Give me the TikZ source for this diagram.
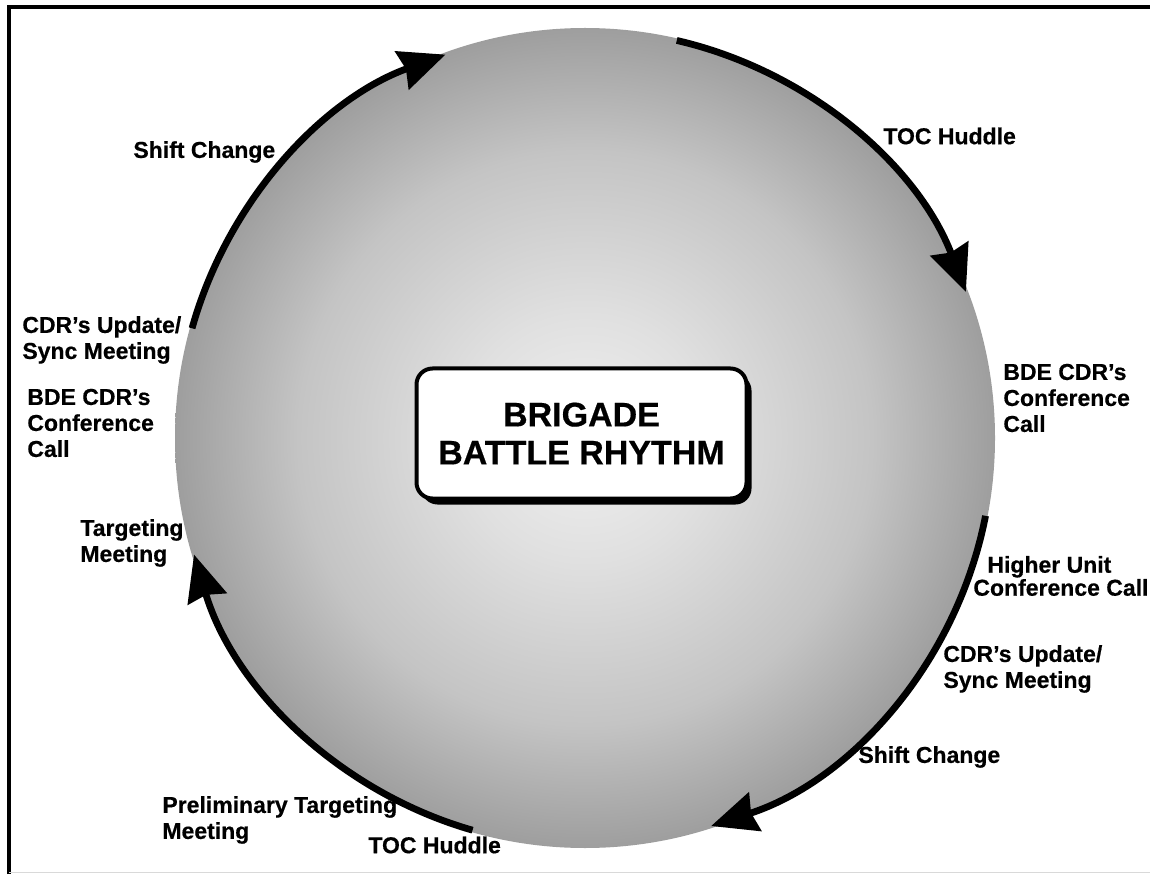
\documentclass[tikz,border=0pt]{standalone}
\usepackage{fontspec}
\setmainfont{Liberation Sans}[BoldFeatures={FakeBold=0.5}]
\usetikzlibrary{arrows.meta,shadows}

% grey disc: light centre fading to a mid grey rim (radius = 25bp)
\definecolor{discA}{HTML}{F0F0F0}
\definecolor{discB}{HTML}{E0E0E0}
\definecolor{discC}{HTML}{C4C4C4}
\definecolor{discD}{HTML}{9E9E9E}
\pgfdeclareradialshading{discfill}{\pgfpoint{0bp}{0bp}}{%
  color(0bp)=(discA); color(7.5bp)=(discB); color(17.5bp)=(discC);
  color(25bp)=(discD); color(50bp)=(discD)}

\tikzset{
  lbl/.style={anchor=west, align=left, inner sep=0pt,
    font=\bfseries\fontsize{11.5}{13}\selectfont},
  cyc/.style={line width=3.4pt,
    -{Stealth[length=23pt, width=20pt, inset=2pt]}},
  titlebox/.style={draw, line width=2pt, fill=white, rounded corners=8pt,
    minimum width=165pt, minimum height=65pt, align=center,
    font=\bfseries\fontsize{17}{19}\selectfont,
    drop shadow={shadow xshift=2.5pt, shadow yshift=-3pt, fill=black, opacity=1}},
  frameline/.style={line width=2pt, line join=miter}
}

\begin{document}
\begin{tikzpicture}[x=0.5pt, y=0.5pt]
\useasboundingbox (0,0) rectangle (1150,874);

% outer frame
\coordinate (fbl) at (9,0);
\coordinate (ftl) at (9,867);
\coordinate (ftr) at (1150,867);
\draw[frameline] (fbl) -- (ftl) -- (ftr);
\coordinate (gbl) at (9,1.5);
\coordinate (gbr) at (1150,1.5);
\draw[black!15, line width=0.6pt] (gbl) -- (gbr);

% shaded disc
\coordinate (hub) at (585,436);
\shade[shading=discfill] (hub) circle[radius=410];

% cycle arrows round the rim
\coordinate (s1) at ([shift={(164.4:408)}]hub);
\coordinate (s2) at ([shift={(77:408)}]hub);
\coordinate (s3) at ([shift={(-11:408)}]hub);
\coordinate (s4) at ([shift={(-106:408)}]hub);
\draw[cyc] (s1) arc[start angle=164.4, end angle=110, radius=408];
\draw[cyc] (s2) arc[start angle=77, end angle=21, radius=408];
\draw[cyc] (s3) arc[start angle=-11, end angle=-72, radius=408];
\draw[cyc] (s4) arc[start angle=-106, end angle=-163.4, radius=408];

% title
\node[titlebox] (title) at (581.5,440.5) {BRIGADE\\BATTLE RHYTHM};

% events
\node[lbl] (shiftTL) at (133,722) {Shift Change};
\node[lbl] (tocTR) at (883,738) {TOC Huddle};
\node[lbl] (cdrL) at (22,534) {CDR’s Update/\\Sync Meeting};
\node[lbl] (bdeL) at (27,451) {BDE CDR’s\\Conference\\Call};
\node[lbl] (targL) at (80,331) {Targeting\\Meeting};
\node[lbl] (bdeR) at (1003,476) {BDE CDR’s\\Conference\\Call};
\node[lbl] (higherR) at (973,298) {\hspace*{7pt}Higher Unit\\[-1.5pt]Conference Call};
\node[lbl] (cdrR) at (943,205) {CDR’s Update/\\Sync Meeting};
\node[lbl] (shiftR) at (858,117) {Shift Change};
\node[lbl] (prelimBL) at (162,54) {Preliminary Targeting\\Meeting};
\node[lbl] (tocB) at (368,29) {TOC Huddle};
\end{tikzpicture}
\end{document}
